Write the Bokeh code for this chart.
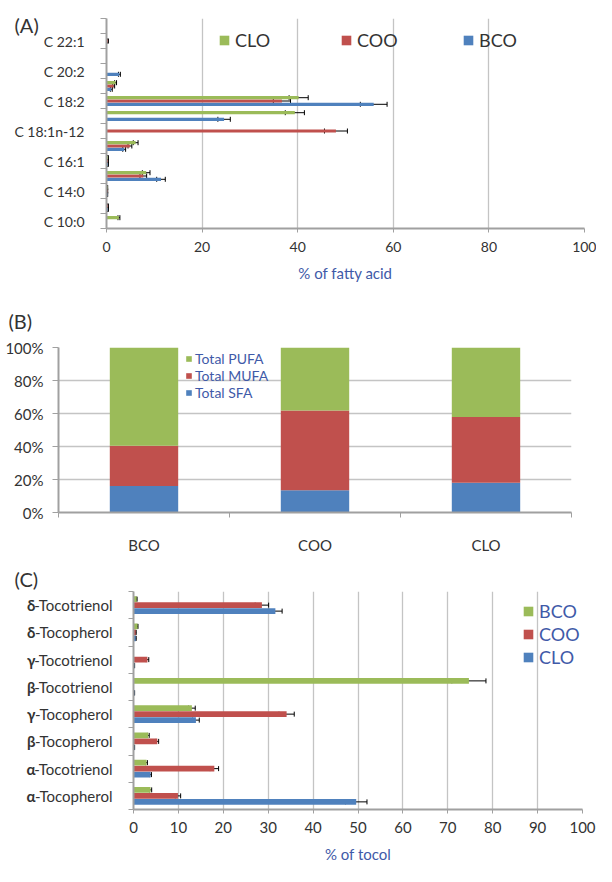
from bokeh.plotting import figure
from bokeh.models import (FixedTicker, Legend, LegendItem, Whisker, TeeHead,
                          ColumnDataSource, PrintfTickFormatter, Range1d, LinearAxis)
from bokeh.layouts import column
from bokeh.embed import file_html
from bokeh.resources import INLINE

FONT = "Lato"
GREEN = "#9bbb59"
RED = "#c0504d"
BLUE = "#4f81bd"
TEXT = "#333333"
BLUE_TEXT = "#3f5aa8"
AXIS = "#a0a0a0"
GRID = "#c4c4c4"

# ---------------- Panel A data (bottom -> top) ----------------
fa_labels = ["C 10:0", "", "C 14:0", "", "C 16:1", "", "C 18:1n-12", "",
             "C 18:2", "", "C 20:2", "", "C 22:1", ""]
fa_bco = [0.0, 0.3, 0.2, 11.4, 0.3, 3.7, 0.0, 24.6, 55.9, 1.0, 2.7, 0.0, 0.0, 0.0]
fa_bco_err = [0.0, 0.1, 0.05, 0.9, 0.1, 0.3, 0.0, 1.3, 2.8, 0.2, 0.2, 0.0, 0.0, 0.0]
fa_coo = [0.0, 0.3, 0.2, 7.7, 0.3, 4.9, 48.0, 0.0, 36.7, 1.5, 0.0, 0.0, 0.3, 0.0]
fa_coo_err = [0.0, 0.1, 0.05, 0.7, 0.1, 0.4, 2.4, 0.0, 1.8, 0.2, 0.0, 0.0, 0.1, 0.0]
fa_clo = [2.6, 0.0, 0.2, 8.3, 0.3, 6.1, 0.0, 39.4, 40.2, 1.9, 0.0, 0.0, 0.0, 0.0]
fa_clo_err = [0.2, 0.0, 0.05, 0.8, 0.1, 0.5, 0.0, 2.0, 2.0, 0.2, 0.0, 0.0, 0.0, 0.0]
fa_xticks = [0, 20, 40, 60, 80, 100]

# ---------------- Panel B data ----------------
oils = ["BCO", "COO", "CLO"]
total_sfa = [16.0, 13.5, 18.1]
total_mufa = [24.5, 48.3, 39.8]
total_pufa = [59.5, 38.2, 42.1]
pct_ticks = [0, 20, 40, 60, 80, 100]

# ---------------- Panel C data (bottom -> top) ----------------
toc_labels = ["α-Tocopherol", "α-Tocotrienol", "β-Tocopherol", "γ-Tocopherol",
              "β-Tocotrienol", "γ-Tocotrienol", "δ-Tocopherol", "δ-Tocotrienol"]
toc_bco = [3.8, 2.9, 3.3, 13.0, 74.7, 0.0, 0.9, 0.7]
toc_bco_err = [0.25, 0.2, 0.2, 0.75, 3.8, 0.0, 0.1, 0.1]
toc_coo = [9.9, 18.0, 5.3, 34.1, 0.0, 3.1, 0.5, 28.6]
toc_coo_err = [0.6, 0.95, 0.3, 1.7, 0.0, 0.3, 0.1, 1.5]
toc_clo = [49.6, 3.8, 0.2, 13.9, 0.2, 0.2, 0.5, 31.6]
toc_clo_err = [2.4, 0.2, 0.05, 0.75, 0.05, 0.05, 0.1, 1.5]
toc_xticks = list(range(0, 101, 10))

BAR_H = 0.215
OFF = 0.22


def base_fig(width, height, xr, yr, ml, mr, mt, mb, title):
    p = figure(width=width, height=height, x_range=xr, y_range=yr,
               output_backend="svg", toolbar_location=None,
               min_border_left=ml, min_border_right=mr,
               min_border_top=mt, min_border_bottom=mb,
               title=title, frame_align=False)
    p.outline_line_color = None
    p.background_fill_color = "white"
    p.border_fill_color = "white"
    p.title.align = "left"
    p.title.text_font = FONT
    p.title.text_font_size = "20px"
    p.title.text_font_style = "normal"
    p.title.text_color = TEXT
    for ax in (p.xaxis[0], p.yaxis[0]):
        ax.axis_line_color = AXIS
        ax.axis_line_width = 2
        ax.major_tick_line_color = AXIS
        ax.minor_tick_line_color = AXIS
        ax.major_label_text_font = FONT
        ax.major_label_text_color = TEXT
        ax.axis_label_text_font = FONT
        ax.axis_label_text_font_style = "normal"
        ax.axis_label_text_color = BLUE_TEXT
        ax.minor_tick_in = 0
        ax.major_tick_in = 0
    return p


def add_bars(p, values, errs, offset, color):
    ys = [i + 1 + offset for i in range(len(values))]
    src = ColumnDataSource(dict(y=ys, v=values))
    r = p.hbar(y="y", right="v", left=0, height=BAR_H, source=src,
               fill_color=color, line_color=None)
    ey = [y for y, v, e in zip(ys, values, errs) if v > 0]
    lo = [v - e for v, e in zip(values, errs) if v > 0]
    hi = [v + e for v, e in zip(values, errs) if v > 0]
    esrc = ColumnDataSource(dict(y=ey, lo=lo, hi=hi))
    w = Whisker(source=esrc, base="y", lower="lo", upper="hi", dimension="width",
                line_color="black", line_width=1,
                lower_head=TeeHead(size=5, line_color="black", line_width=1),
                upper_head=TeeHead(size=5, line_color="black", line_width=1))
    p.add_layout(w)
    return r


def cat_axis(ax, labels, n):
    major = [i + 1 for i, lab in enumerate(labels) if lab]
    ax.ticker = FixedTicker(ticks=major, minor_ticks=[i + 0.5 for i in range(n + 1)])
    ax.major_label_overrides = {i + 1: lab for i, lab in enumerate(labels) if lab}
    ax.major_tick_out = 0
    ax.minor_tick_out = 6


# ================= Panel A =================
nA = len(fa_labels)
pA = base_fig(596, 286, Range1d(0, 100), Range1d(0.5, nA + 0.5), 106, 12, 18, 58, "(A)")
pA.title.offset = -92
pA.title.standoff = -36
rA_bco = add_bars(pA, fa_bco, fa_bco_err, -OFF, BLUE)
rA_coo = add_bars(pA, fa_coo, fa_coo_err, 0.0, RED)
rA_clo = add_bars(pA, fa_clo, fa_clo_err, OFF, GREEN)
pA.xaxis.ticker = FixedTicker(ticks=fa_xticks)
pA.xgrid.ticker = FixedTicker(ticks=fa_xticks)
pA.xgrid.grid_line_color = GRID
pA.xgrid.grid_line_width = 1.3
pA.ygrid.visible = False
pA.xaxis.major_tick_out = 4
pA.xaxis.major_label_text_font_size = "14px"
pA.xaxis.major_label_standoff = 9
pA.xaxis.axis_label = "% of fatty acid"
pA.xaxis.axis_label_text_font_size = "15px"
pA.xaxis.axis_label_standoff = 9
cat_axis(pA.yaxis[0], fa_labels, nA)
pA.yaxis.major_label_text_font_size = "14px"
pA.yaxis.major_label_standoff = 16
legA = Legend(items=[LegendItem(label="CLO", renderers=[rA_clo]),
                     LegendItem(label="COO", renderers=[rA_coo]),
                     LegendItem(label="BCO", renderers=[rA_bco])],
              orientation="horizontal", location=(112, 177),
              glyph_width=12, glyph_height=12, label_width=105, label_standoff=5,
              spacing=0, padding=0, margin=0, border_line_color=None,
              background_fill_alpha=0, label_text_font=FONT,
              label_text_font_size="18px", label_text_color=TEXT)
pA.add_layout(legA, "center")

# ================= Panel B =================
pB = base_fig(596, 270, Range1d(0, len(oils)), Range1d(0, 100), 58, 25, 61, 38, "(B)")
pB.title.offset = -50
pB.title.standoff = 30
srcB = ColumnDataSource(dict(x=[i + 0.5 for i in range(len(oils))],
                             sfa=total_sfa, mufa=total_mufa, pufa=total_pufa))
rB = pB.vbar_stack(["sfa", "mufa", "pufa"], x="x", width=0.4, source=srcB,
                   fill_color=[BLUE, RED, GREEN], line_color=None)
pB.yaxis.ticker = FixedTicker(ticks=pct_ticks)
pB.yaxis.formatter = PrintfTickFormatter(format="%d%%")
pB.yaxis.major_tick_out = 6
pB.yaxis.major_label_text_font_size = "15px"
pB.yaxis.major_label_standoff = 9
pB.ygrid.ticker = FixedTicker(ticks=pct_ticks)
pB.ygrid.grid_line_color = GRID
pB.ygrid.grid_line_width = 1.3
pB.xgrid.visible = False
pB.xaxis.ticker = FixedTicker(ticks=[i + 0.5 for i in range(len(oils))],
                              minor_ticks=[i for i in range(len(oils) + 1)])
pB.xaxis.major_label_overrides = {i + 0.5: o for i, o in enumerate(oils)}
pB.xaxis.major_tick_out = 0
pB.xaxis.minor_tick_out = 5
pB.xaxis.major_label_text_font_size = "15px"
pB.xaxis.major_label_standoff = 18
legB = Legend(items=[LegendItem(label="Total PUFA", renderers=[rB[2]]),
                     LegendItem(label="Total MUFA", renderers=[rB[1]]),
                     LegendItem(label="Total SFA", renderers=[rB[0]])],
              location=(127, 111), glyph_width=7, glyph_height=7,
              label_standoff=3, spacing=0, padding=0, margin=0,
              border_line_color=None, background_fill_alpha=0,
              label_text_font=FONT, label_text_font_size="14px",
              label_text_color=BLUE_TEXT, label_height=16)
pB.add_layout(legB, "center")

# ================= Panel C =================
nC = len(toc_labels)
pC = base_fig(596, 310, Range1d(0, 100), Range1d(0.5, nC + 0.5), 133, 14, 35, 57, "(C)")
pC.title.offset = -119
pC.title.standoff = 2
rC_clo = add_bars(pC, toc_clo, toc_clo_err, -OFF, BLUE)
rC_coo = add_bars(pC, toc_coo, toc_coo_err, 0.0, RED)
rC_bco = add_bars(pC, toc_bco, toc_bco_err, OFF, GREEN)
pC.xaxis.ticker = FixedTicker(ticks=toc_xticks)
pC.xgrid.ticker = FixedTicker(ticks=toc_xticks)
pC.xgrid.grid_line_color = GRID
pC.xgrid.grid_line_width = 1.3
pC.ygrid.visible = False
pC.xaxis.major_tick_out = 4
pC.xaxis.major_label_text_font_size = "15px"
pC.xaxis.major_label_standoff = 8
pC.xaxis.axis_label = "% of tocol"
pC.xaxis.axis_label_text_font_size = "15px"
pC.xaxis.axis_label_standoff = 9
# category names: regular part on the inner axis, bold Greek prefix on an outer axis
toc_rest = [lab[1:] for lab in toc_labels]
toc_greek = [lab[0] for lab in toc_labels]
cat_axis(pC.yaxis[0], toc_rest, nC)
pC.yaxis.minor_tick_out = 5
pC.yaxis.major_label_text_font_size = "15px"
pC.yaxis.major_label_standoff = 16
greek_axis = LinearAxis(ticker=FixedTicker(ticks=[i + 1 for i in range(nC)]),
                        major_label_overrides={i + 1: g for i, g in enumerate(toc_greek)},
                        axis_line_color=None, major_tick_line_color=None,
                        minor_tick_line_color=None, major_tick_out=0, major_tick_in=0,
                        minor_tick_out=0, minor_tick_in=0, major_label_standoff=-4,
                        major_label_text_font=FONT, major_label_text_font_size="15px",
                        major_label_text_font_style="bold",
                        major_label_text_color=TEXT)
pC.add_layout(greek_axis, "left")
legC = Legend(items=[LegendItem(label="BCO", renderers=[rC_bco]),
                     LegendItem(label="COO", renderers=[rC_coo]),
                     LegendItem(label="CLO", renderers=[rC_clo])],
              location=(389, 141), glyph_width=12, glyph_height=12,
              label_standoff=5, spacing=1, padding=0, margin=0,
              border_line_color=None, background_fill_alpha=0,
              label_text_font=FONT, label_text_font_size="18px",
              label_text_color=BLUE_TEXT)
pC.add_layout(legC, "center")

layout = column(pA, pB, pC)
open("out.html", "w").write(file_html(layout, INLINE))
